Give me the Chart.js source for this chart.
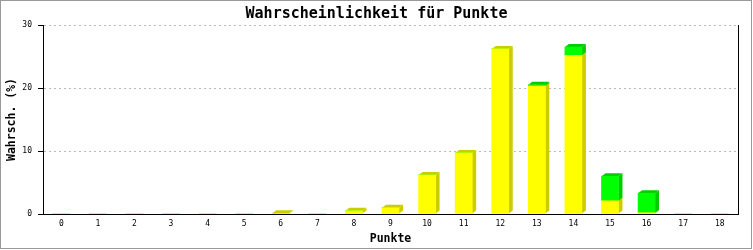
<!DOCTYPE html>
<html>
<head>
<meta charset="utf-8">
<script src="https://cdn.jsdelivr.net/npm/chart.js@4"></script>
<style>
  body { margin: 0; background: #fff; }
  canvas { display: block; }
</style>
</head>
<body>
<canvas id="grafico" width="753" height="250"></canvas>
<script>
// data
const punkte = ['0','1','2','3','4','5','6','7','8','9','10','11','12','13','14','15','16','17','18'];
const gelb = [0, 0, 0, 0, 0, 0, 0.1, 0, 0.5, 1.0, 6.2, 9.7, 26.2, 20.3, 25.2, 2.1, 0.2, 0, 0];
const gruen = [0, 0, 0, 0, 0, 0, 0, 0, 0, 0, 0, 0, 0, 0.2, 1.3, 3.9, 3.1, 0, 0];
const yTicks = [0, 10, 20, 30];

const mono = '"DejaVu Sans Mono", "Liberation Mono", monospace';

// pseudo 3D: side and top faces drawn behind the bar fronts
const quader = {
  id: 'quader',
  beforeDatasetsDraw(chart) {
    const ctx = chart.ctx;
    const dx = 4, dy = 3;
    ctx.save();
    chart.data.datasets.forEach((ds, i) => {
      const meta = chart.getDatasetMeta(i);
      meta.data.forEach((bar, j) => {
        if (!ds.data[j]) return;
        const l = bar.x - bar.width / 2, r = bar.x + bar.width / 2;
        const top = Math.min(bar.y, bar.base), bot = Math.max(bar.y, bar.base);
        ctx.fillStyle = ds.sideColor;
        ctx.beginPath();
        ctx.moveTo(r, top);
        ctx.lineTo(r + dx, top - dy);
        ctx.lineTo(r + dx, bot - dy);
        ctx.lineTo(r, bot);
        ctx.closePath();
        ctx.fill();
        ctx.beginPath();
        ctx.moveTo(l, top);
        ctx.lineTo(l + dx, top - dy);
        ctx.lineTo(r + dx, top - dy);
        ctx.lineTo(r, top);
        ctx.closePath();
        ctx.fill();
      });
    });
    ctx.restore();
  },
  afterDraw(chart) {
    const ctx = chart.ctx;
    ctx.save();
    ctx.strokeStyle = '#999';
    ctx.lineWidth = 1;
    ctx.strokeRect(0.5, 0.5, chart.width - 2, chart.height - 2);
    ctx.restore();
  }
};

new Chart(document.getElementById('grafico'), {
  type: 'bar',
  data: {
    labels: punkte,
    datasets: [
      { label: 'gelb', data: gelb, backgroundColor: '#ffff00', sideColor: '#cccc00', barThickness: 17, borderWidth: 0 },
      { label: 'grün', data: gruen, backgroundColor: '#00ff00', sideColor: '#00cc00', barThickness: 17, borderWidth: 0 }
    ]
  },
  plugins: [quader],
  options: {
    responsive: false,
    animation: false,
    layout: { padding: 0 },
    plugins: {
      legend: { display: false },
      tooltip: { enabled: false },
      title: {
        display: true,
        text: 'Wahrscheinlichkeit für Punkte',
        color: '#000',
        font: { family: mono, size: 15, weight: 'bold' },
        padding: { top: 5, bottom: 2 }
      }
    },
    scales: {
      x: {
        stacked: true,
        grid: { display: false, drawTicks: false },
        border: { display: true, color: '#000', width: 1 },
        ticks: { color: '#000', font: { family: mono, size: 8 }, padding: 5, maxRotation: 0, autoSkip: false },
        title: {
          display: true,
          text: 'Punkte',
          color: '#000',
          font: { family: mono, size: 11.5, weight: 'bold' },
          padding: { top: 0, bottom: 4 }
        },
        afterFit(s) { s.height = 36; }
      },
      y: {
        stacked: true,
        min: 0,
        max: 30,
        afterBuildTicks(s) { s.ticks = yTicks.map(v => ({ value: v })); },
        grid: {
          color: c => c.tick && c.tick.value === 0 ? 'rgba(0,0,0,0)' : '#bbb',
          tickColor: '#000',
          tickLength: 5,
          tickBorderDash: []
        },
        border: { display: true, color: '#000', width: 1, dash: [2, 3] },
        ticks: { color: '#000', font: { family: mono, size: 8 }, padding: 6 },
        title: {
          display: true,
          text: 'Wahrsch. (%)',
          color: '#000',
          font: { family: mono, size: 11.5, weight: 'bold' },
          padding: { top: 5, bottom: 0 }
        },
        afterFit(s) { s.width = 43; }
      },
      y1: {
        position: 'right',
        min: 0,
        max: 30,
        grid: { drawOnChartArea: false, drawTicks: false },
        border: { display: true, color: '#000', width: 1 },
        ticks: { display: false },
        afterFit(s) { s.width = 15; }
      }
    }
  }
});
</script>
</body>
</html>
